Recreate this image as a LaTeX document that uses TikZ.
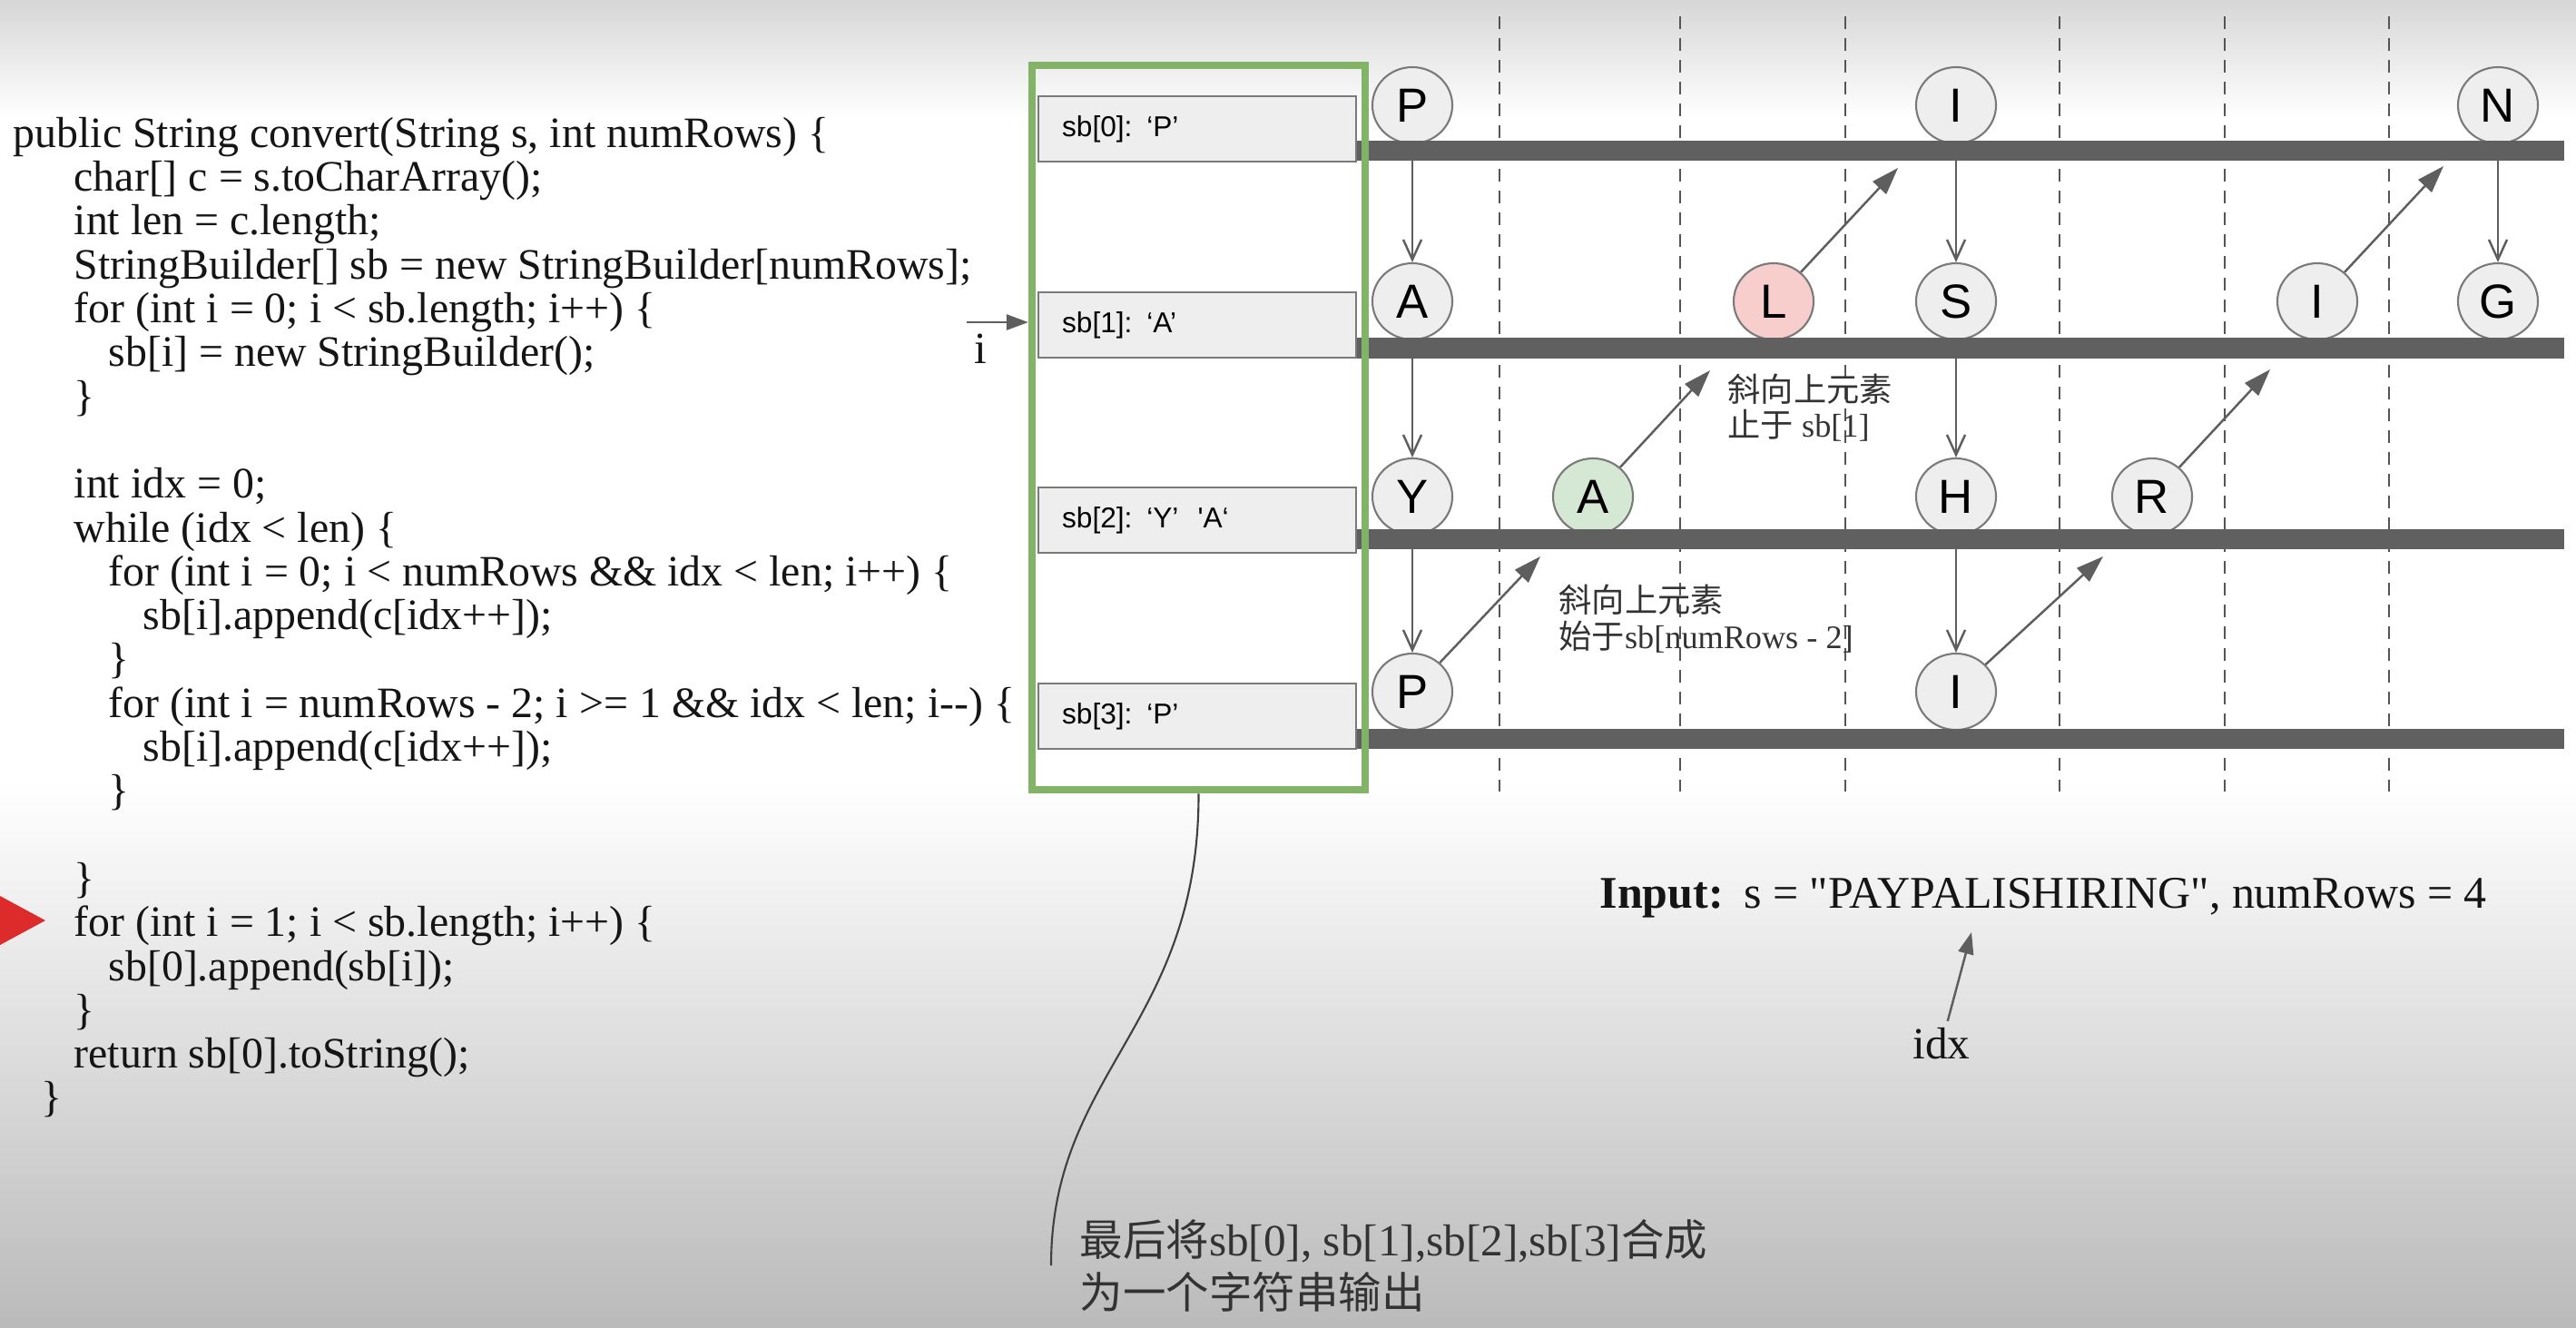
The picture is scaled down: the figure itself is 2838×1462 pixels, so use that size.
\documentclass[tikz,border=0pt]{standalone}
\usepackage{fontspec}
\setmainfont{Liberation Serif}[Ligatures=TeXOff]
\newfontfamily\sbfont{Liberation Sans}[Ligatures=TeXOff]
\newfontfamily\cjk{Noto Sans CJK SC}
\usetikzlibrary{arrows.meta,shapes.geometric}
\definecolor{cfill}{HTML}{EEEEEE}
\definecolor{cdraw}{HTML}{7A7A7A}
\definecolor{gfill}{HTML}{D5E8D4}
\definecolor{pfill}{HTML}{F8CECC}
\definecolor{barc}{HTML}{606060}
\definecolor{gstroke}{HTML}{82B366}
\definecolor{arrc}{HTML}{5E5E5E}
\definecolor{dashc}{HTML}{555555}
\definecolor{redtri}{HTML}{DD2A2A}
\definecolor{txt}{HTML}{151515}
\definecolor{anntxt}{HTML}{333333}
\begin{document}
\begin{tikzpicture}[x=0.01cm,y=-0.01cm,
  code/.style={anchor=base west, inner sep=0pt, text=txt, font=\fontsize{13.6}{16}\selectfont},
  ch/.style={ellipse, draw=cdraw, line width=0.6pt, fill=cfill, minimum width=0.88cm, minimum height=0.84cm, inner sep=0pt, font=\sbfont\fontsize{15}{15}\selectfont},
  sbbox/.style={rectangle, anchor=north west, draw=cdraw, line width=0.6pt, fill=cfill, minimum height=0.72cm, text width=2.98cm, inner xsep=0.26cm, inner ysep=0pt, align=left, font=\sbfont\fontsize{9}{10}\selectfont},
  dline/.style={draw=dashc, line width=0.6pt, dash pattern=on 0.14cm off 0.1cm},
  downarr/.style={draw=arrc, line width=0.7pt, -{Straight Barb[length=0.22cm,width=0.2cm]}},
  diagarr/.style={draw=arrc, line width=0.7pt, -{Triangle[length=0.3cm,width=0.2cm]}},
  smallarr/.style={draw=arrc, line width=0.7pt, -{Triangle[length=0.24cm,width=0.17cm]}},
  bar/.style={fill=barc},
  ann/.style={anchor=base west, inner sep=0pt, text=anntxt, font=\fontsize{10.3}{12}\selectfont},
  bottxt/.style={anchor=base west, inner sep=0pt, text=anntxt, font=\fontsize{14}{16}\selectfont}
]
\useasboundingbox (0,0) rectangle (2838,1462);
% background
\fill[white] (0,0) rectangle (2838,1462);
\shade[top color=black!16, bottom color=white] (0,0) rectangle (2838,130);
\shade[top color=white, bottom color=black!27] (0,860) rectangle (2838,1462);

% dashed column separators
\foreach \x in {1652,1851,2033,2269,2451,2632}
  \draw[dline] (\x,18) -- (\x,872);

% code
\node[code] (c0)  at (14,162)   {public String convert(String s, int numRows) \{};
\node[code] (c1)  at (81,210)   {char[] c = s.toCharArray();};
\node[code] (c2)  at (81,258)   {int len = c.length;};
\node[code] (c3)  at (81,307)   {StringBuilder[] sb = new StringBuilder[numRows];};
\node[code] (c4)  at (81,355)   {for (int i = 0; i < sb.length; i++) \{};
\node[code] (c5)  at (119,403)  {sb[i] = new StringBuilder();};
\node[code] (c6)  at (81,452)   {\}};
\node[code] (c8)  at (81,548)   {int idx = 0;};
\node[code] (c9)  at (81,597)   {while (idx < len) \{};
\node[code] (c10) at (119,645)  {for (int i = 0; i < numRows \&\& idx < len; i++) \{};
\node[code] (c11) at (157,693)  {sb[i].append(c[idx++]);};
\node[code] (c12) at (119,741)  {\}};
\node[code] (c13) at (119,790)  {for (int i = numRows - 2; i >= 1 \&\& idx < len; i--) \{};
\node[code] (c14) at (157,838)  {sb[i].append(c[idx++]);};
\node[code] (c15) at (119,886)  {\}};
\node[code] (c17) at (81,983)   {\}};
\node[code] (c18) at (81,1031)  {for (int i = 1; i < sb.length; i++) \{};
\node[code] (c19) at (119,1080) {sb[0].append(sb[i]);};
\node[code] (c20) at (81,1128)  {\}};
\node[code] (c21) at (81,1176)  {return sb[0].toString();};
\node[code] (c22) at (45,1224)  {\}};

% red marker
\fill[redtri] (0,987) -- (50,1014) -- (0,1041) -- cycle;

% circles
\node[ch] (P0) at (1556,116) {P};
\node[ch] (I0) at (2155,116) {I};
\node[ch] (N0) at (2752,116) {N};
\node[ch] (A1) at (1556,332) {A};
\node[ch, fill=pfill] (L1) at (1954,332) {L};
\node[ch] (S1) at (2155,332) {S};
\node[ch] (I1) at (2553,332) {I};
\node[ch] (G1) at (2752,332) {G};
\node[ch] (Y2) at (1556,547) {Y};
\node[ch, fill=gfill] (A2) at (1755,547) {A};
\node[ch] (H2) at (2155,547) {H};
\node[ch] (R2) at (2371,547) {R};
\node[ch] (P3) at (1556,762) {P};
\node[ch] (I3) at (2155,762) {I};

% vertical arrows
\draw[downarr] (P0) -- (A1);
\draw[downarr] (A1) -- (Y2);
\draw[downarr] (Y2) -- (P3);
\draw[downarr] (I0) -- (S1);
\draw[downarr] (S1) -- (H2);
\draw[downarr] (H2) -- (I3);
\draw[downarr] (N0) -- (G1);

% diagonal arrows
\coordinate (t1) at (1697,613);
\coordinate (t2) at (1884,408);
\coordinate (t3) at (2091,185);
\coordinate (t4) at (2317,613);
\coordinate (t5) at (2501,407);
\coordinate (t6) at (2692,183);
\draw[diagarr] (P3) -- (t1);
\draw[diagarr] (A2) -- (t2);
\draw[diagarr] (L1) -- (t3);
\draw[diagarr] (I3) -- (t4);
\draw[diagarr] (R2) -- (t5);
\draw[diagarr] (I1) -- (t6);

% row bars
\fill[bar] (1493,155) rectangle (2825,177);
\fill[bar] (1467,372) rectangle (2825,395);
\fill[bar] (1493,583) rectangle (2825,605);
\fill[bar] (1467,803) rectangle (2825,825);

% string builder boxes
\node[sbbox] (sb0) at (1143,105) {sb[0]: ‘P’};
\node[sbbox] (sb1) at (1143,321) {sb[1]: ‘A’};
\node[sbbox] (sb2) at (1143,536) {sb[2]: ‘Y’\ \ 'A‘};
\node[sbbox] (sb3) at (1143,752) {sb[3]: ‘P’};

% green frame
\node[draw=gstroke, line width=0.08cm, minimum width=3.67cm, minimum height=7.98cm, inner sep=0pt] (gbox) at (1320.5,471) {};

% i pointer
\coordinate (itail) at (1065,355);
\draw[smallarr] (itail) -- (itail -| gbox.west);
\node[anchor=base, inner sep=0pt, text=txt, font=\fontsize{14}{16}\selectfont] (ilab) at (1080,400) {i};

% annotations
\node[ann] (a1a) at (1903,442) {{\cjk 斜向上元素}};
\node[ann] (a1b) at (1903,481) {{\cjk 止于} sb[1]};
\node[ann] (a2a) at (1717,674) {{\cjk 斜向上元素}};
\node[ann] (a2b) at (1717,714) {{\cjk 始于}sb[numRows - 2]};

% bottom note with curve
\coordinate (cend) at (1158,1394);
\draw[draw=black!75, line width=0.6pt] (gbox.south) .. controls (1321,1130) and (1158,1180) .. (cend);
\node[bottxt] (b1) at (1189,1383) {{\cjk\fontsize{13.5}{16}\selectfont 最后将}sb[0], sb[1],sb[2],sb[3]{\cjk\fontsize{13.5}{16}\selectfont 合成}};
\node[bottxt] (b2) at (1189,1441) {{\cjk\fontsize{13.5}{16}\selectfont 为一个字符串输出}};

% input
\node[anchor=base west, inner sep=0pt, text=txt, font=\fontsize{14.2}{16}\selectfont] (inp) at (1762,1000) {\textbf{Input:}\hspace{0.45em}s = "PAYPALISHIRING", numRows = 4};
\node[inner sep=2pt, text=txt, font=\fontsize{14}{16}\selectfont] (idx) at (2139,1150) {idx};
\coordinate (idxtip) at (2172,1027);
\draw[smallarr] (idx) -- (idxtip);
\end{tikzpicture}
\end{document}
